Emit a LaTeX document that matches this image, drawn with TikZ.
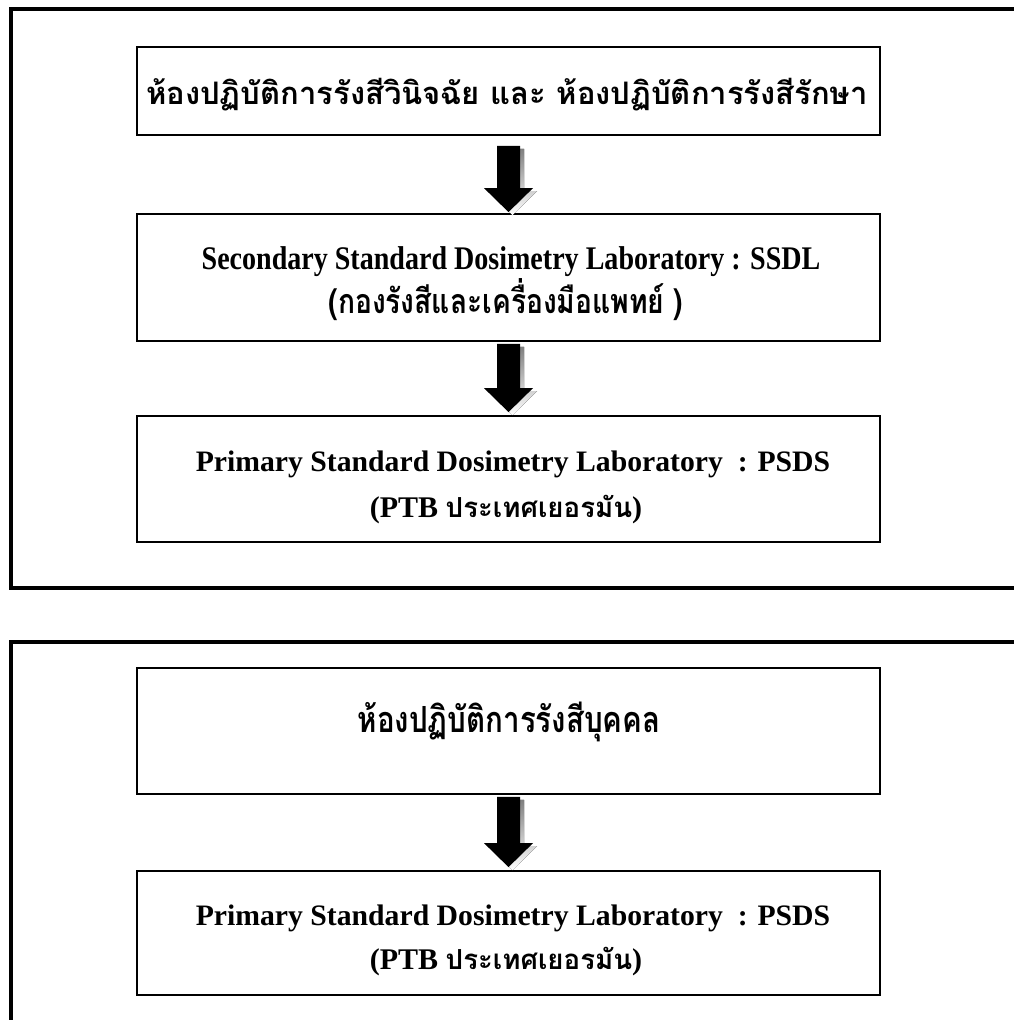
\documentclass[tikz,border=0pt]{standalone}
\usepackage{fontspec}
\setmainfont{Liberation Serif}
\newfontfamily\thai[Script=Thai]{Loma}
\usetikzlibrary{calc}
\definecolor{shade}{RGB}{175,175,175}
\tikzset{
  frameline/.style={line width=4pt, black},
  box/.style={draw=black, line width=1.8pt, minimum width=743pt, inner sep=0pt},
  txt/.style={inner sep=0pt, font=\bfseries, text=black},
}
\newcommand\blockarrow[2]{%
  \fill[shade] ([shift={(-11.5+4,3)}]#1) -- ([shift={(11.5+4,3)}]#1) -- ([shift={(11.5+4,-24+3)}]#2) -- ([shift={(24.5+4,-24+3)}]#2) -- ([shift={(4,3)}]#2) -- ([shift={(-24.5+4,-24+3)}]#2) -- ([shift={(-11.5+4,-24+3)}]#2) -- cycle;
  \fill[black] ([xshift=-11.5pt]#1) -- ([xshift=11.5pt]#1) -- ([shift={(11.5,-24)}]#2) -- ([shift={(24.5,-24)}]#2) -- (#2) -- ([shift={(-24.5,-24)}]#2) -- ([shift={(-11.5,-24)}]#2) -- cycle;}
\begin{document}
\begin{tikzpicture}[x=1pt,y=-1pt]
\useasboundingbox (0,0) rectangle (1014,1020);
\clip (0,0) rectangle (1014,1020);
\fill[white] (0,0) rectangle (1014,1020);
% outer frames
\draw[frameline] (1040,8.5) -- (10.5,8.5) -- (10.5,588) -- (1040,588);
\draw[frameline] (1040,642) -- (10.5,642) -- (10.5,1040);
% boxes
\node[box, minimum height=88pt] (b1) at (508.5,91) {};
\node[box, minimum height=127pt] (b2) at (508.5,277.5) {};
\node[box, minimum height=126pt] (b3) at (508.5,479) {};
\node[box, minimum height=126pt] (b4) at (508.5,731) {};
\node[box, minimum height=124pt] (b5) at (508.5,933) {};
% texts
\node[txt] (t1) at (507,95) {\thai\fontsize{31}{33}\selectfont ห้องปฏิบัติการรังสีวินิจฉัย และ ห้องปฏิบัติการรังสีรักษา};
\node[txt] (t2a) at (511,262) {\scalebox{0.85}[1.0]{\fontsize{33}{35}\selectfont Secondary Standard Dosimetry Laboratory : SSDL}};
\node[txt] (t2b) at (506,300) {\scalebox{0.83}[1.0]{\thai\fontsize{34}{36}\selectfont (กองรังสีและเครื่องมือแพทย์ )}};
\node[txt] (t3a) at (513,464) {\fontsize{29.7}{32}\selectfont Primary Standard Dosimetry Laboratory \ : PSDS};
\node[txt] (t3b) at (506,510) {\fontsize{30}{32}\selectfont (PTB {\thai\fontsize{27.6}{30}\selectfont ประเทศเยอรมัน})};
\node[txt] (t4) at (509,722) {\scalebox{0.82}[1.0]{\thai\fontsize{36}{38}\selectfont ห้องปฏิบัติการรังสีบุคคล}};
\node[txt] (t5a) at (513,918) {\fontsize{29.7}{32}\selectfont Primary Standard Dosimetry Laboratory \ : PSDS};
\node[txt] (t5b) at (506,962) {\fontsize{30}{32}\selectfont (PTB {\thai\fontsize{27.6}{30}\selectfont ประเทศเยอรมัน})};
% arrows
\coordinate (a1s) at ($(b1.south)+(0,10)$);
\coordinate (a1t) at ($(b2.north)+(0,-1)$);
\coordinate (a2s) at ($(b2.south)+(0,2)$);
\coordinate (a2t) at ($(b3.north)+(0,-3)$);
\coordinate (a3s) at ($(b4.south)+(0,2)$);
\coordinate (a3t) at ($(b5.north)+(0,-3)$);
\blockarrow{a1s}{a1t}
\blockarrow{a2s}{a2t}
\blockarrow{a3s}{a3t}
\end{tikzpicture}
\end{document}
